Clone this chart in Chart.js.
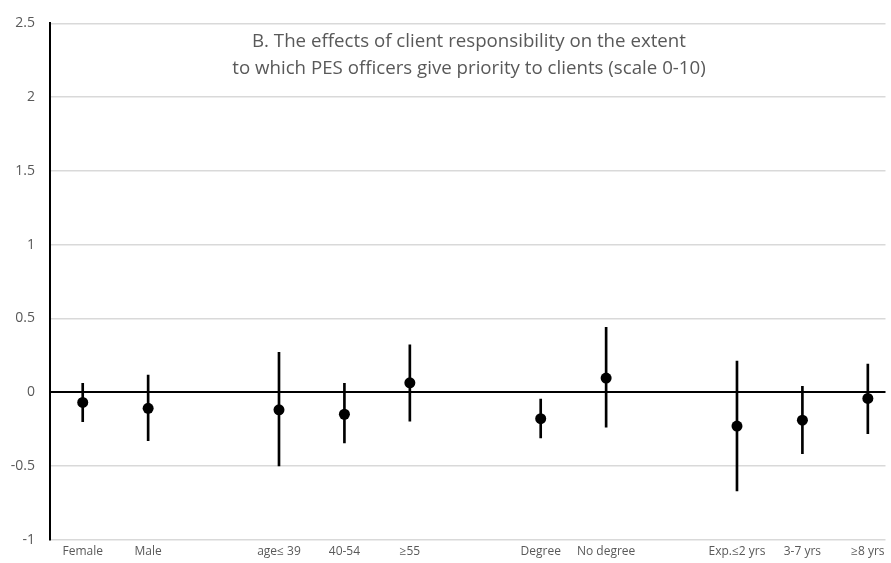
<!DOCTYPE html>
<html>
<head>
<meta charset="utf-8">
<script src="https://cdn.jsdelivr.net/npm/chart.js@4"></script>
<style>
  html, body { margin: 0; padding: 0; background: #fff; }
  #wrap { width: 891px; height: 563px; }
</style>
</head>
<body>
<div id="wrap"><canvas id="chart" width="891" height="563"></canvas></div>
<script>
// Categories (blank entries are the gaps between groups)
const categories = ['Female', 'Male', '', 'age\u2264 39', '40-54', '\u226555', '',
  'Degree', 'No degree', '', 'Exp.\u22642 yrs', '3-7 yrs', '\u22658 yrs'];

// Point estimates and confidence limits (null = gap)
const estimates = [-0.07, -0.11, null, -0.12, -0.15, 0.063, null, -0.18, 0.095, null, -0.23, -0.19, -0.043];
const lower     = [-0.20, -0.33, null, -0.50, -0.345, -0.197, null, -0.31, -0.238, null, -0.67, -0.417, -0.282];
const upper     = [0.06, 0.115, null, 0.27, 0.06, 0.32, null, -0.047, 0.44, null, 0.21, 0.04, 0.19];

const yTicks = [-1, -0.5, 0, 0.5, 1, 1.5, 2, 2.5];
const titleLines = ['B. The effects of client responsibility on the extent',
  'to which PES officers give priority to clients (scale 0-10)'];

const textColor = '#595959';
const fontFamily = "'Open Sans', 'Liberation Sans', sans-serif";

// Build datasets from arrays
const pointData = [];
const barData = [];
categories.forEach((c, i) => {
  if (estimates[i] !== null) {
    pointData.push({ x: i, y: estimates[i] });
    barData.push({ x: i, y: [lower[i], upper[i]] });
  }
});

// Title drawn inside the plot area
const innerTitle = {
  id: 'innerTitle',
  afterDraw(chart) {
    const ctx = chart.ctx;
    ctx.save();
    ctx.fillStyle = textColor;
    ctx.font = '18.7px ' + fontFamily;
    ctx.textAlign = 'center';
    ctx.textBaseline = 'middle';
    ctx.fillText(titleLines[0], 469, 42);
    ctx.fillText(titleLines[1], 469, 69);
    ctx.restore();
  }
};

new Chart(document.getElementById('chart'), {
  data: {
    datasets: [
      {
        type: 'scatter',
        data: pointData,
        pointRadius: 5.5,
        pointHoverRadius: 5.5,
        backgroundColor: '#000',
        borderColor: '#000',
        borderWidth: 0,
        order: 0
      },
      {
        type: 'bar',
        data: barData,
        backgroundColor: '#000',
        barThickness: 2,
        borderSkipped: false,
        order: 1
      }
    ]
  },
  options: {
    responsive: false,
    animation: false,
    events: [],
    layout: { padding: { top: 15, right: 0, left: 0, bottom: 0 } },
    plugins: {
      legend: { display: false },
      tooltip: { enabled: false }
    },
    scales: {
      x: {
        type: 'linear',
        bounds: 'data',
        offset: false,
        min: -0.5,
        max: 12.27,
        afterBuildTicks: scale => {
          scale.ticks = categories.map((c, i) => ({ value: i }));
        },
        afterFit: scale => { scale.height = 23; },
        grid: { display: false, drawTicks: false, offset: false },
        border: { display: false },
        ticks: {
          autoSkip: false,
          maxRotation: 0,
          padding: 5,
          color: textColor,
          font: { family: fontFamily, size: 12 },
          callback: v => categories[v]
        }
      },
      y: {
        min: -1,
        max: 2.5,
        afterBuildTicks: scale => {
          scale.ticks = yTicks.map(v => ({ value: v }));
        },
        afterFit: scale => { scale.width = 50; },
        grid: {
          drawTicks: false,
          lineWidth: ctx => (ctx.tick && ctx.tick.value === 0 ? 2 : 1.5),
          color: ctx => (ctx.tick && ctx.tick.value === 0 ? '#000' : '#d9d9d9')
        },
        border: { display: true, color: '#000', width: 2 },
        ticks: {
          padding: 15,
          color: textColor,
          font: { family: fontFamily, size: 14 },
          callback: v => String(v)
        }
      }
    }
  },
  plugins: [innerTitle]
});
</script>
</body>
</html>
